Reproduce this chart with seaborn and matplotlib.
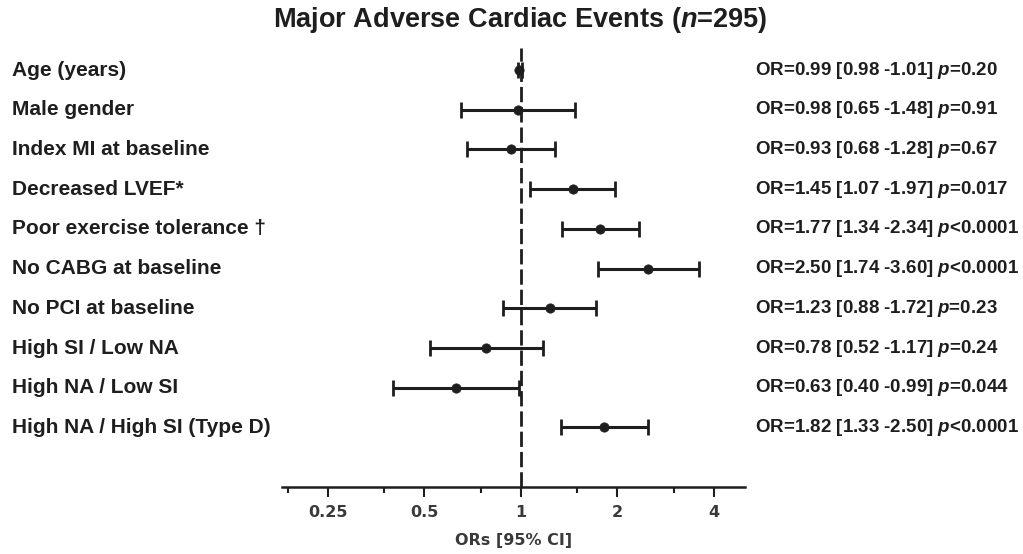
import numpy as np
import pandas as pd
import matplotlib
matplotlib.use("Agg")
import matplotlib.pyplot as plt
import matplotlib.transforms as mtransforms
from matplotlib.ticker import FixedLocator, FixedFormatter, NullFormatter
import seaborn as sns

# ---- data ----
labels = ["Age (years)", "Male gender", "Index MI at baseline", "Decreased LVEF*",
          "Poor exercise tolerance \u2020", "No CABG at baseline", "No PCI at baseline",
          "High SI / Low NA", "High NA / Low SI", "High NA / High SI (Type D)"]
or_vals = [0.99, 0.98, 0.93, 1.45, 1.77, 2.50, 1.23, 0.78, 0.63, 1.82]
ci_low = [0.98, 0.65, 0.68, 1.07, 1.34, 1.74, 0.88, 0.52, 0.40, 1.33]
ci_high = [1.01, 1.48, 1.28, 1.97, 2.34, 3.60, 1.72, 1.17, 0.99, 2.50]
p_text = ["=0.20", "=0.91", "=0.67", "=0.017", "<0.0001", "<0.0001", "=0.23",
          "=0.24", "=0.044", "<0.0001"]
major_ticks = [0.25, 0.5, 1, 2, 4]
major_labels = ["0.25", "0.5", "1", "2", "4"]
minor_ticks = [0.1875, 0.375, 0.75, 1.5, 3]

df = pd.DataFrame({"label": labels, "OR": or_vals, "lo": ci_low, "hi": ci_high,
                   "row": np.arange(len(labels))})

sns.set_theme(style="white")
plt.rcParams["font.family"] = ["Liberation Sans", "DejaVu Sans"]
plt.rcParams["mathtext.fontset"] = "custom"
plt.rcParams["mathtext.rm"] = "Liberation Sans:bold"
plt.rcParams["mathtext.it"] = "Liberation Sans:italic:bold"
plt.rcParams["mathtext.bf"] = "Liberation Sans:bold"

W, H = 1023, 554
fig = plt.figure(figsize=(W / 100, H / 100), dpi=100)
ax = fig.add_axes([282 / W, (H - 487) / H, 463 / W, (487 - 48) / H])

ink = "#1e1e1e"

ax.errorbar(df["OR"], df["row"], xerr=[df["OR"] - df["lo"], df["hi"] - df["OR"]],
            fmt="none", ecolor=ink, elinewidth=2.2, capsize=5.5, capthick=2.0, zorder=2)
sns.scatterplot(data=df, x="OR", y="row", ax=ax, color=ink, s=45, marker="o",
                edgecolor=ink, linewidth=0.5, zorder=3, legend=False)

ax.axvline(1, color=ink, lw=2.0, dashes=(5.5, 1.8), zorder=1)

ax.set_xscale("log", base=2)
ax.set_xlim(0.18, 5.0)
ax.set_ylim(10.5, -0.554)

for s in ["top", "right", "left"]:
    ax.spines[s].set_visible(False)
ax.spines["bottom"].set_linewidth(1.8)
ax.spines["bottom"].set_color(ink)

ax.xaxis.set_major_locator(FixedLocator(major_ticks))
ax.xaxis.set_major_formatter(FixedFormatter(major_labels))
ax.xaxis.set_minor_locator(FixedLocator(minor_ticks))
ax.xaxis.set_minor_formatter(NullFormatter())
ax.tick_params(axis="x", which="major", direction="out", length=7, width=1.5,
               color=ink, bottom=True, pad=6)
ax.tick_params(axis="x", which="minor", direction="out", length=4.5, width=1.5,
               color=ink, bottom=True)
for t in ax.get_xticklabels():
    t.set_fontfamily("DejaVu Sans")
    t.set_fontsize(11.5)
    t.set_fontweight("semibold")
    t.set_color("#3a3a3a")
ax.set_yticks([])
ax.set_ylabel("")
ax.set_xlabel("ORs [95% CI]", fontfamily="DejaVu Sans", fontsize=11.5,
              fontweight="semibold", color="#3a3a3a", labelpad=9)

trans = mtransforms.blended_transform_factory(fig.transFigure, ax.transData)
for i, row in df.iterrows():
    ax.text(12 / W, row["row"], row["label"], transform=trans, ha="left", va="center",
            fontsize=15, fontweight="bold", color=ink)
    txt = f"OR={row['OR']:.2f} [{row['lo']:.2f} -{row['hi']:.2f}] $p${p_text[i]}"
    ax.text(755 / W, row["row"], txt, transform=trans, ha="left", va="center",
            fontsize=13.5, fontweight="bold", color=ink)

fig.text(520 / W, 1 - 20 / H, "Major Adverse Cardiac Events ($n$=295)", ha="center",
         va="center", fontsize=19.5, fontweight="bold", color=ink)

fig.savefig("out.png", dpi=100, facecolor="white")
